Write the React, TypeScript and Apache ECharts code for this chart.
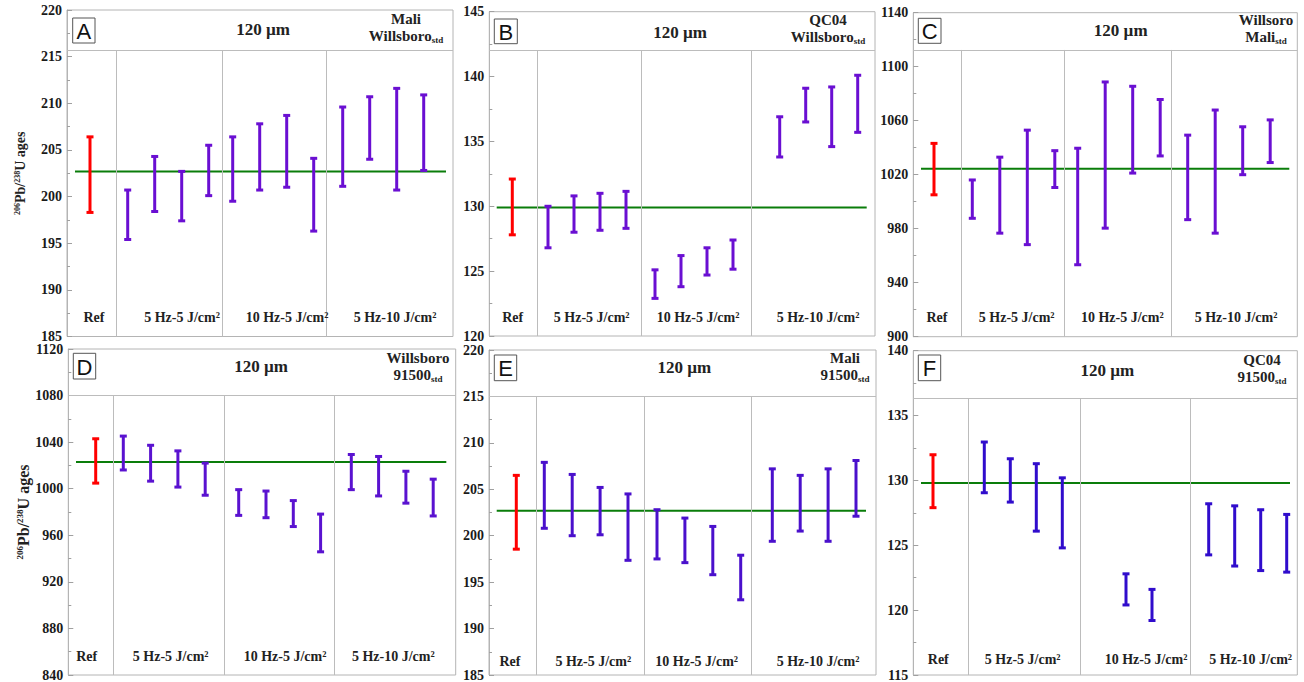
import React, { useEffect, useRef } from "react";
import * as echarts from "echarts";

// ---------- data ----------
const groupLabels = ["Ref", "5 Hz-5 J/cm²", "10 Hz-5 J/cm²", "5 Hz-10 J/cm²"];
const panelLetters = ["A", "B", "C", "D", "E", "F"];
const spotSize = "120 µm";
const sampleNames = ["Mali", "QC04", "Willsoro", "Willsboro", "Mali", "QC04"];
const standardNames = ["Willsboro", "Willsboro", "Mali", "91500", "91500", "91500"];
const yAxisTitleParts = ["206", "Pb/", "238", "U ages"];

// A: Mali vs Willsboro std
const refA = [198.3, 206.4];
const meanA = 202.7;
const lowA = [195.4, 198.4, 197.4, 200.1, 199.5, 200.7, 201.0, 196.3, 201.1, 204.0, 200.7, 202.8];
const highA = [200.7, 204.3, 202.7, 205.5, 206.4, 207.8, 208.7, 204.1, 209.6, 210.7, 211.6, 210.9];

// B: QC04 vs Willsboro std
const refB = [127.8, 132.1];
const meanB = 129.9;
const lowB = [126.8, 128.0, 128.15, 128.3, 122.9, 123.8, 124.7, 125.15, 133.8, 136.5, 134.6, 135.7];
const highB = [130.0, 130.8, 131.0, 131.15, 125.1, 126.2, 126.8, 127.4, 136.9, 139.1, 139.2, 140.1];

// C: Willsoro vs Mali std
const refC = [1005.1, 1043.2];
const meanC = 1024.4;
const lowC = [987.7, 976.7, 968.2, 1010.5, 953.3, 980.4, 1021.2, 1033.9, 986.7, 976.7, 1020.0, 1029.0];
const highC = [1016.1, 1033.0, 1053.0, 1037.8, 1039.6, 1088.7, 1085.5, 1075.7, 1049.3, 1067.9, 1055.5, 1060.6];

// D: Willsboro vs 91500 std
const refD = [1004.8, 1042.9];
const meanD = 1022.9;
const lowD = [1016.1, 1006.5, 1001.4, 994.4, 977.1, 975.1, 967.5, 945.8, 999.2, 993.8, 987.6, 976.6];
const highD = [1045.2, 1037.3, 1032.5, 1022.0, 999.2, 998.0, 989.8, 978.2, 1029.4, 1027.7, 1015.0, 1008.2];

// E: Mali vs 91500 std
const refE = [198.55, 206.5];
const meanE = 202.7;
const lowE = [200.8, 200.0, 200.1, 197.35, 197.5, 197.1, 195.8, 193.1, 199.4, 200.5, 199.4, 202.1];
const highE = [207.9, 206.6, 205.2, 204.5, 202.8, 201.9, 201.0, 197.9, 207.2, 206.5, 207.2, 208.1];

// F: QC04 vs 91500 std
const refF = [127.9, 131.98];
const meanF = 129.8;
const lowF = [129.05, 128.33, 126.09, 124.8, null, 120.4, 119.2, null, 124.26, 123.4, 123.05, 122.93];
const highF = [132.96, 131.67, 131.29, 130.2, null, 122.8, 121.6, null, 128.2, 128.04, 127.74, 127.38];

// y-axis scales
const yMins = [185, 120, 900, 840, 185, 115];
const yMaxs = [220, 145, 1140, 1120, 220, 140];
const yInts = [5, 5, 40, 40, 5, 5];
const headerVals = [215.7, 142, 1112.4, 1080.4, 215, 136.3];

// ---------- layout (pixels) ----------
const FONT = "'Liberation Serif','Times New Roman',serif";
const SANS = "'Liberation Sans',Arial,sans-serif";

const layouts = [
  { left: 67, top: 10, width: 386, height: 326.5, ref: 23, starts: [60.7, 165.7, 275.7], sp: 27, seps: [49.7, 155.3, 259.7], green: [8, 379], labelX: [27, 115, 220, 328], labelY: 317, title: [263, 29], right: [406, 19, 36], box: [72.7, 18, 22.3, 25], color: "#6a0fd2", yName: 14, nameGap: 40 },
  { left: 489.3, top: 11.7, width: 385.7, height: 324.3, ref: 23, starts: [58.7, 165.7, 290.4], sp: 26, seps: [48, 151.7, 261.7], green: [7.4, 377.4], labelX: [23.4, 102.4, 208.7, 328.7], labelY: 317, title: [680, 32], right: [828, 20, 37], box: [494.3, 19, 23, 24.7], color: "#6a0fd2", yName: 0, nameGap: 0 },
  { left: 913.3, top: 12.7, width: 384, height: 324, ref: 20.7, starts: [59, 164.4, 274.4], sp: 27.5, seps: [48, 151, 258.4], green: [7.7, 376], labelX: [23.7, 103.4, 209, 322.7], labelY: 317, title: [1120.7, 30.7], right: [1266, 20, 37.3], box: [918.3, 18.3, 22.7, 25], color: "#6a0fd2", yName: 0, nameGap: 0 },
  { left: 68.3, top: 349, width: 387.4, height: 330.3, ref: 27.4, starts: [55, 170.4, 283], sp: 27.3, seps: [45, 156, 266.4], green: [7.7, 378], labelX: [18.4, 102.4, 216.7, 325], labelY: 656, title: [261, 366.7], right: [418, 358, 375], box: [73.3, 353.3, 22.4, 25.7], color: "#5a12d0", yName: 16, nameGap: 31 },
  { left: 489, top: 350, width: 387, height: 330, ref: 27.3, starts: [55.3, 168, 283.3], sp: 27.9, seps: [47.7, 155, 262.7], green: [7.7, 377], labelX: [21, 104.3, 207.7, 329], labelY: 661, title: [684.3, 367.3], right: [845, 357.5, 375], box: [494.3, 355, 22.4, 25.7], color: "#4a10cc", yName: 0, nameGap: 0 },
  { left: 913.3, top: 350.7, width: 384, height: 329.3, ref: 19.7, starts: [71, 186.7, 295.4], sp: 26, seps: [54.7, 166.7, 277], green: [7.7, 376.7], labelX: [25, 109.4, 232.7, 337.4], labelY: 659, title: [1107.3, 370], right: [1262, 360, 377], box: [918.3, 355, 22.4, 25.7], color: "#300ccc", yName: 0, nameGap: 0 },
];

const refs = [refA, refB, refC, refD, refE, refF];
const means = [meanA, meanB, meanC, meanD, meanE, meanF];
const lows = [lowA, lowB, lowC, lowD, lowE, lowF];
const highs = [highA, highB, highC, highD, highE, highF];

function errorBarRenderer(color: string) {
  return (params: any, api: any) => {
    const x = api.value(0);
    const lo = api.value(1);
    const hi = api.value(2);
    const p1 = api.coord([x, lo]);
    const p2 = api.coord([x, hi]);
    const w = 3.5;
    const st = { stroke: color, lineWidth: 3 };
    return {
      type: "group",
      children: [
        { type: "line", shape: { x1: p1[0], y1: p1[1], x2: p2[0], y2: p2[1] }, style: st },
        { type: "line", shape: { x1: p1[0] - w, y1: p1[1], x2: p1[0] + w, y2: p1[1] }, style: st },
        { type: "line", shape: { x1: p2[0] - w, y1: p2[1], x2: p2[0] + w, y2: p2[1] }, style: st },
      ],
    };
  };
}

function buildOption() {
  const grid: any[] = [];
  const xAxis: any[] = [];
  const yAxis: any[] = [];
  const series: any[] = [];
  const graphic: any[] = [];

  layouts.forEach((L, i) => {
    const yMin = yMins[i];
    const header = headerVals[i];
    grid.push({
      left: L.left, top: L.top, width: L.width, height: L.height,
      show: true, borderColor: "#b4b4b4", borderWidth: 1, backgroundColor: "#fff",
    });
    xAxis.push({ type: "value", gridIndex: i, min: 0, max: L.width, show: false });
    const ya: any = {
      type: "value", gridIndex: i, min: yMin, max: yMaxs[i], interval: yInts[i],
      splitLine: { show: false },
      axisLine: { show: true, lineStyle: { color: "#b4b4b4" } },
      axisTick: { show: true, inside: true, length: 5, lineStyle: { color: "#a0a0a0" } },
      minorTick: { show: true, splitNumber: 2, length: 3, lineStyle: { color: "#a0a0a0" } },
      axisLabel: {
        fontFamily: FONT, fontWeight: "bold", fontSize: 14, color: "#1a1a1a", margin: 5,
        formatter: (v: number) => String(v),
      },
    };
    if (L.yName) {
      ya.name = `{sup|${yAxisTitleParts[0]}}{m|${yAxisTitleParts[1]}}{sup|${yAxisTitleParts[2]}}{m|${yAxisTitleParts[3]}}`;
      ya.nameLocation = "middle";
      ya.nameGap = L.nameGap;
      ya.nameRotate = 90;
      ya.nameTextStyle = {
        rich: {
          m: { fontFamily: FONT, fontWeight: "bold", fontSize: L.yName, color: "#222" },
          sup: { fontFamily: FONT, fontWeight: "bold", fontSize: Math.round(L.yName * 0.55), color: "#222", verticalAlign: "top" },
        },
      };
    }
    yAxis.push(ya);

    // green mean line + header/separator lines
    series.push({
      type: "line", xAxisIndex: i, yAxisIndex: i, silent: true, symbol: "none", z: 2,
      data: [[L.green[0], means[i]], [L.green[1], means[i]]],
      lineStyle: { color: "#0a7d0a", width: 2 },
      markLine: {
        silent: true, symbol: ["none", "none"], label: { show: false },
        lineStyle: { color: "#bcbcbc", width: 1, type: "solid" },
        data: [
          { yAxis: header },
          ...L.seps.map((s) => [{ coord: [s, yMin] }, { coord: [s, header] }]),
        ],
      },
    });

    // reference (red)
    series.push({
      type: "custom", xAxisIndex: i, yAxisIndex: i, silent: true, z: 3,
      renderItem: errorBarRenderer("#ff0000"),
      encode: { x: 0, y: [1, 2] },
      data: [[L.ref, refs[i][0], refs[i][1]]],
    });

    // measured (purple)
    const data: any[] = [];
    lows[i].forEach((lo: any, k: number) => {
      const hi = highs[i][k];
      if (lo == null || hi == null) return;
      data.push([L.starts[Math.floor(k / 4)] + (k % 4) * L.sp, lo, hi]);
    });
    series.push({
      type: "custom", xAxisIndex: i, yAxisIndex: i, silent: true, z: 3,
      renderItem: errorBarRenderer(L.color),
      encode: { x: 0, y: [1, 2] },
      data,
    });

    // letter box
    graphic.push({
      type: "rect", shape: { x: L.box[0], y: L.box[1], width: L.box[2], height: L.box[3] },
      style: { fill: "#fff", stroke: "#555", lineWidth: 1 }, z: 10,
    });
    graphic.push({
      type: "text", x: L.box[0] + L.box[2] / 2, y: L.box[1] + L.box[3] / 2 + 1, z: 11,
      style: { text: panelLetters[i], fontFamily: SANS, fontSize: 22, fill: "#111", textAlign: "center", textVerticalAlign: "middle" },
    });
    // spot size title
    graphic.push({
      type: "text", x: L.title[0], y: L.title[1], z: 11,
      style: { text: spotSize, fontFamily: FONT, fontWeight: "bold", fontSize: 17, fill: "#222", textAlign: "center", textVerticalAlign: "middle" },
    });
    // sample / standard
    graphic.push({
      type: "text", x: L.right[0], y: L.right[1], z: 11,
      style: { text: sampleNames[i], fontFamily: FONT, fontWeight: "bold", fontSize: 15, fill: "#222", textAlign: "center", textVerticalAlign: "middle" },
    });
    graphic.push({
      type: "text", x: L.right[0], y: L.right[2], z: 11,
      style: {
        text: `{n|${standardNames[i]}}{s|std}`,
        textAlign: "center", textVerticalAlign: "middle",
        rich: {
          n: { fontFamily: FONT, fontWeight: "bold", fontSize: 15, fill: "#222", lineHeight: 16 },
          s: { fontFamily: FONT, fontWeight: "bold", fontSize: 9, fill: "#222", lineHeight: 16, verticalAlign: "bottom", padding: [6, 0, 0, 0] },
        },
      },
    });
    // group labels
    groupLabels.forEach((g, k) => {
      graphic.push({
        type: "text", x: L.left + L.labelX[k], y: L.labelY, z: 11,
        style: { text: g, fontFamily: FONT, fontWeight: "bold", fontSize: 14, fill: "#222", textAlign: "center", textVerticalAlign: "middle" },
      });
    });
  });

  return { animation: false, backgroundColor: "#fff", grid, xAxis, yAxis, series, graphic };
}

export default function App() {
  const ref = useRef<HTMLDivElement>(null);
  useEffect(() => {
    if (!ref.current) return;
    const chart = echarts.init(ref.current, undefined, { renderer: "svg" });
    chart.setOption(buildOption() as any);
    return () => chart.dispose();
  }, []);
  return (
    <div
      ref={ref}
      style={{ position: "fixed", left: 0, top: 0, width: 1304, height: 682, background: "#fff" }}
    />
  );
}
